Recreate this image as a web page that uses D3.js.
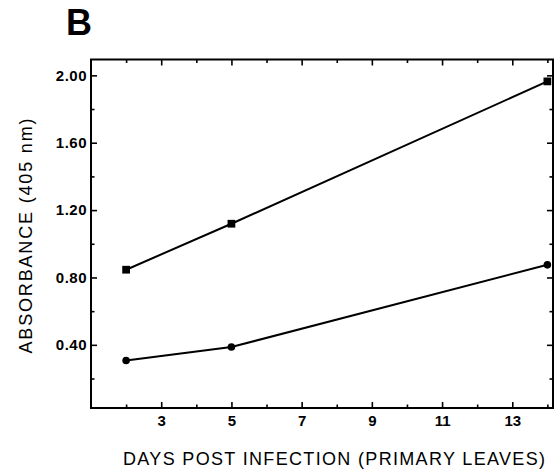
<!DOCTYPE html>
<html><head><meta charset="utf-8">
<script src="https://cdn.jsdelivr.net/npm/d3@7"></script>
<style>body{margin:0;background:#fff}svg{display:block}</style>
</head><body>
<svg id="c" width="558" height="469"></svg>
<script>
const days = [2, 5, 14];
const upperSeries = [0.846, 1.119, 1.964];
const lowerSeries = [0.307, 0.387, 0.875];
const xMajorTicks = [3, 5, 7, 9, 11, 13];
const xMinorTicks = [2, 4, 6, 8, 10, 12, 14];
const yMajorTicks = [0.40, 0.80, 1.20, 1.60, 2.00];
const yMinorTicks = [0.20, 0.60, 1.00, 1.40, 1.80];
const panelLabel = "B";
const xTitle = "DAYS POST INFECTION (PRIMARY LEAVES)";
const yTitle = "ABSORBANCE (405 nm)";

const svg = d3.select("#c");
const L = 91, R = 553, T = 59.5, B = 408;
const x = d3.scaleLinear().domain([1, 14.16]).range([L, R]);
const y = d3.scaleLinear().domain([0.025, 2.094]).range([B, T]);

const font = "Arial, 'Liberation Sans', Helvetica, sans-serif";

function styleAxis(g){
  g.select(".domain").remove();
  g.selectAll("line").attr("stroke","#000").attr("stroke-width",1.6);
  g.selectAll("text").attr("font-family",font).attr("fill","#000");
}

// ticks: bottom
svg.append("g").attr("transform",`translate(0,${B})`)
  .call(d3.axisBottom(x).tickValues(xMajorTicks).tickSize(-6).tickPadding(7).tickFormat(d3.format("d")))
  .call(styleAxis)
  .call(g=>g.selectAll("text").attr("font-size",15).attr("font-weight","bold"));
svg.append("g").attr("transform",`translate(0,${B})`)
  .call(d3.axisBottom(x).tickValues(xMinorTicks).tickSize(-3.5).tickFormat(""))
  .call(styleAxis);
// top
svg.append("g").attr("transform",`translate(0,${T})`)
  .call(d3.axisTop(x).tickValues(xMajorTicks).tickSize(-6).tickFormat(""))
  .call(styleAxis);
svg.append("g").attr("transform",`translate(0,${T})`)
  .call(d3.axisTop(x).tickValues(xMinorTicks).tickSize(-3.5).tickFormat(""))
  .call(styleAxis);
// left
svg.append("g").attr("transform",`translate(${L},0)`)
  .call(d3.axisLeft(y).tickValues(yMajorTicks).tickSize(-6).tickPadding(4).tickFormat(d3.format(".2f")))
  .call(styleAxis)
  .call(g=>g.selectAll("text").attr("font-size",15).attr("font-weight","bold").attr("letter-spacing","0.5px"));
svg.append("g").attr("transform",`translate(${L},0)`)
  .call(d3.axisLeft(y).tickValues(yMinorTicks).tickSize(-3.5).tickFormat(""))
  .call(styleAxis);
// right
svg.append("g").attr("transform",`translate(${R},0)`)
  .call(d3.axisRight(y).tickValues(yMajorTicks).tickSize(-6).tickFormat(""))
  .call(styleAxis);
svg.append("g").attr("transform",`translate(${R},0)`)
  .call(d3.axisRight(y).tickValues(yMinorTicks).tickSize(-3.5).tickFormat(""))
  .call(styleAxis);

// frame
svg.append("rect").attr("x",L).attr("y",T).attr("width",R-L).attr("height",B-T)
  .attr("fill","none").attr("stroke","#000").attr("stroke-width",2);

// series
const line = d3.line().x((d,i)=>x(days[i])).y(d=>y(d));
[upperSeries, lowerSeries].forEach(s=>{
  svg.append("path").datum(s).attr("d",line)
    .attr("fill","none").attr("stroke","#000").attr("stroke-width",2);
});
svg.selectAll(".up").data(upperSeries).join("path")
  .attr("transform",(d,i)=>`translate(${x(days[i])},${y(d)})`)
  .attr("d",d3.symbol(d3.symbolSquare,60)).attr("fill","#000");
svg.selectAll(".lo").data(lowerSeries).join("circle")
  .attr("cx",(d,i)=>x(days[i])).attr("cy",d=>y(d)).attr("r",3.8).attr("fill","#000");

// titles
svg.append("text").attr("x",79).attr("y",35).attr("text-anchor","middle")
  .attr("font-family",font).attr("font-weight","bold").attr("font-size",36).text(panelLabel);
svg.append("text").attr("x",334).attr("y",465).attr("text-anchor","middle")
  .attr("font-family",font).attr("font-size",18)
  .attr("textLength",422).attr("lengthAdjust","spacing").text(xTitle);
svg.append("text").attr("transform","translate(32,236) rotate(-90)").attr("text-anchor","middle")
  .attr("font-family",font).attr("font-size",18)
  .attr("textLength",235).attr("lengthAdjust","spacing").text(yTitle);
</script>
</body></html>
